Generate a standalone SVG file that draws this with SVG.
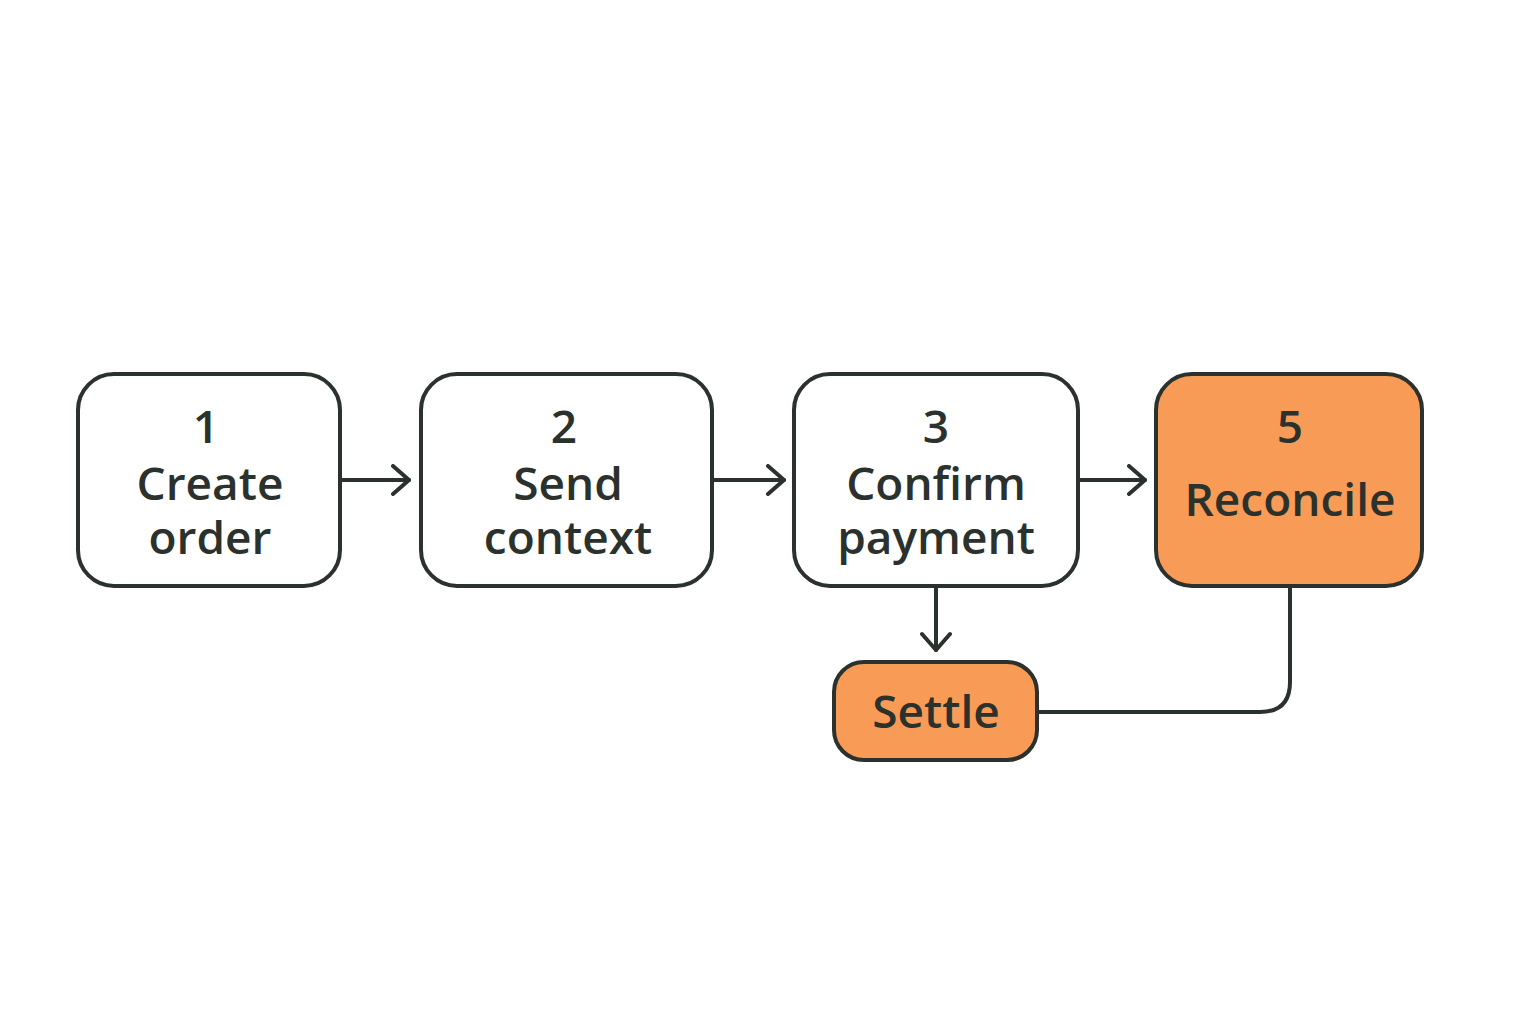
<svg xmlns="http://www.w3.org/2000/svg" width="1536" height="1024" viewBox="0 0 1536 1024">
<defs>
<style>
.box{fill:#fff;stroke:#2b312c;stroke-width:4}
.hot{fill:#F89B57;stroke:#2b312c;stroke-width:4}
.t{font-family:"Open Sans","Liberation Sans",sans-serif;font-size:46px;font-weight:600;fill:#2b312c;text-anchor:middle}
.c{fill:none;stroke:#2b312c;stroke-width:4;stroke-linecap:round;stroke-linejoin:round}
</style>
<marker id="ah" viewBox="0 0 24 32" refX="22" refY="16" markerWidth="24" markerHeight="32" markerUnits="userSpaceOnUse" orient="auto">
<path d="M6,2 L22,16 L6,30" fill="none" stroke="#2b312c" stroke-width="4" stroke-linecap="round" stroke-linejoin="round"/>
</marker>
</defs>
<rect width="1536" height="1024" fill="#fff"/>
<g id="connectors">
<path class="c" d="M342,480 L409,480" marker-end="url(#ah)"/>
<path class="c" d="M714,480 L784,480" marker-end="url(#ah)"/>
<path class="c" d="M1080,480 L1145,480" marker-end="url(#ah)"/>
<path class="c" d="M936,588 L936,650" marker-end="url(#ah)"/>
<path class="c" d="M1290,588 L1290,682 Q1290,712 1260,712 L1039,712"/>
</g>
<g id="n1"><rect class="box" x="78" y="374" width="262" height="212" rx="36"/>
<text class="t" x="206" y="443">1</text><text class="t" x="210" y="500">Create</text><text class="t" x="210" y="554">order</text></g>
<g id="n2"><rect class="box" x="421" y="374" width="291" height="212" rx="36"/>
<text class="t" x="564" y="443">2</text><text class="t" x="568" y="500">Send</text><text class="t" x="568" y="554">context</text></g>
<g id="n3"><rect class="box" x="794" y="374" width="284" height="212" rx="36"/>
<text class="t" x="936" y="443">3</text><text class="t" x="936" y="500">Confirm</text><text class="t" x="936" y="554">payment</text></g>
<g id="n5"><rect class="hot" x="1156" y="374" width="266" height="212" rx="36"/>
<text class="t" x="1290" y="443">5</text><text class="t" x="1290" y="516">Reconcile</text></g>
<g id="settle"><rect class="hot" x="834" y="662" width="203" height="98" rx="30"/>
<text class="t" x="936" y="728">Settle</text></g>
</svg>
